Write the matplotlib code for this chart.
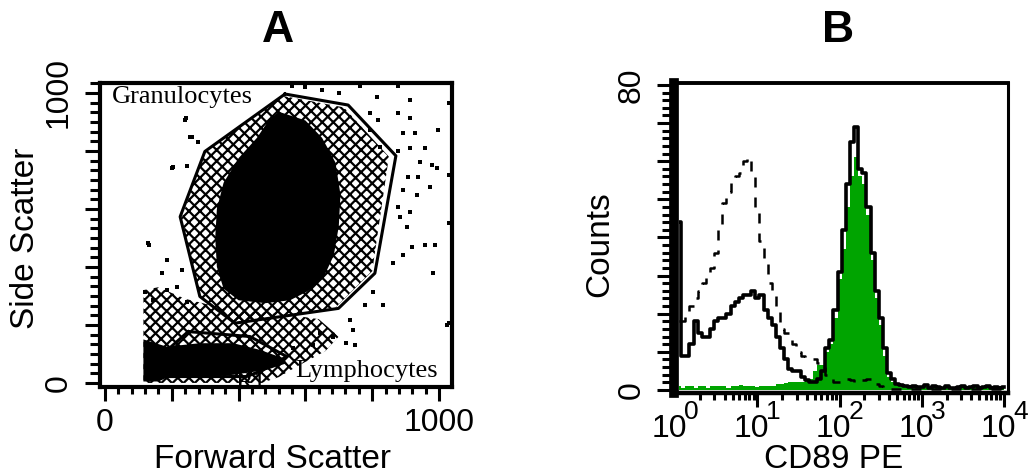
import numpy as np
import matplotlib
matplotlib.use('Agg')
import matplotlib.pyplot as plt
from matplotlib.ticker import MultipleLocator, FixedLocator, LogLocator, NullFormatter

W, H = 1031, 476
SANS = ['Liberation Sans Narrow', 'Liberation Sans', 'DejaVu Sans']
SERIF = ['Liberation Serif', 'DejaVu Serif']
plt.rcParams['font.family'] = SANS
plt.rcParams['hatch.linewidth'] = 1.6

# ---------------- Panel A data (forward / side scatter dot plot) ----------------
# dense granulocyte core
gran_core_x = [520, 600, 650, 690, 705, 700, 685, 655, 605, 554, 480, 400, 355, 335, 330, 335, 355, 400, 455, 490]
gran_core_y = [935, 905, 845, 760, 650, 540, 440, 365, 315, 285, 275, 285, 325, 400, 500, 600, 690, 775, 845, 905]
# speckled area around the granulocytes
gran_fringe_x = [530, 715, 850, 800, 690, 560, 390, 285, 230, 300]
gran_fringe_y = [990, 950, 780, 385, 260, 230, 210, 295, 570, 800]
# dense lymphocyte cluster
lym_core_x = [115, 115, 185, 284, 384, 464, 534, 544, 484, 384, 284, 185, 160]
lym_core_y = [5, 150, 125, 137, 137, 114, 85, 68, 45, 28, 22, 18, 5]
# speckled area around lymphocytes / debris
lym_fringe_x = [115, 115, 160, 240, 380, 520, 640, 700, 660, 580, 520, 470]
lym_fringe_y = [0, 320, 330, 290, 250, 240, 220, 160, 110, 60, 20, 0]
# isolated events
dots_x = [763, 878, 813, 913, 793, 878, 818, 913, 793, 893, 928, 998, 823, 878, 913, 958, 943, 978, 993,
          908, 938, 973, 893, 933, 878, 913, 883, 903, 243, 254, 279, 200, 246, 133, 185, 170, 230, 120,
          145, 185, 215, 245, 918, 958, 988, 893, 863, 983, 803, 833, 778, 733, 743, 683, 723, 748, 623,
          643, 603, 563, 1023, 240, 260, 205, 130, 600, 650, 700, 560, 1030, 1030, 1030, 1030]
dots_y = [1022, 1022, 987, 976, 930, 930, 907, 913, 872, 861, 861, 872, 815, 798, 809, 809, 763, 752, 740,
          711, 711, 677, 665, 648, 608, 591, 573, 539, 913, 847, 832, 740, 748, 476, 424, 378, 390, 315,
          286, 321, 332, 280, 470, 476, 476, 441, 413, 378, 315, 269, 269, 217, 183, 160, 137, 130, 130,
          171, 114, 120, 200, 907, 849, 746, 482, 1020, 1010, 1000, 1025, 965, 717, 552, 207]
# gates
gate_gran_x = [539, 728, 871, 808, 699, 389, 284, 225, 299, 539]
gate_gran_y = [996, 958, 783, 378, 257, 206, 298, 573, 798, 996]
gate_lym_x = [249, 434, 544, 474, 424, 175, 165, 249]
gate_lym_y = [177, 160, 91, 45, 22, 22, 91, 177]

# ---------------- Panel B data (CD89 PE histograms) ----------------
log_ch = [0.05, 0.10, 0.15, 0.20, 0.25, 0.30, 0.35, 0.40, 0.45, 0.50,
          0.55, 0.60, 0.65, 0.70, 0.75, 0.80, 0.85, 0.90, 0.95, 1.00,
          1.05, 1.10, 1.15, 1.20, 1.25, 1.30, 1.35, 1.40, 1.45, 1.50,
          1.55, 1.60, 1.65, 1.70, 1.75, 1.80, 1.85, 1.90, 1.95, 2.00,
          2.05, 2.10, 2.15, 2.20, 2.25, 2.30, 2.35, 2.40, 2.45, 2.50,
          2.55, 2.60, 2.65, 2.70, 2.75, 2.80, 2.85, 2.90, 2.95, 3.00,
          3.05, 3.10, 3.15, 3.20, 3.25, 3.30, 3.35, 3.40, 3.45, 3.50,
          3.55, 3.60, 3.65, 3.70, 3.75, 3.80, 3.85, 3.90, 3.95, 4.00]
solid_counts = [44, 9, 9, 12, 18, 15, 14, 14, 16, 18,
                19, 19, 20, 22, 23, 24, 25, 25, 26, 24,
                25, 21, 19, 17, 14, 11, 8, 5.5, 5, 5,
                3.5, 2.5, 2, 2, 3, 5, 11, 13, 21, 31,
                42, 54, 65, 69, 58, 57, 48, 36, 26, 19,
                11, 4.5, 3, 1.5, 1.2, 1, 0.8, 1, 0.8, 0.8,
                1.2, 0.6, 1, 0.8, 0.6, 1, 0.6, 0.6, 0.8, 1,
                0.6, 0.8, 1, 0.6, 0.8, 1, 0.6, 0.8, 0.6, 0.8]
green_counts = [1, 0.5, 1, 1, 0.5, 1, 1, 0.5, 1, 1,
                1, 1, 0.5, 1, 1, 1.2, 1, 1, 1, 0.8,
                1, 1, 1, 1, 1.5, 1.5, 1.8, 2, 2, 2,
                2, 2.5, 3, 5, 6.5, 6.5, 10, 12, 19, 29,
                37, 48, 56, 61, 56, 54, 46, 34, 24, 17,
                9, 3.5, 2.2, 1.2, 1, 0.8, 0.5, 0.8, 0.5, 0.5,
                0.8, 0.4, 0.8, 0.5, 0.4, 0.8, 0.4, 0.4, 0.5, 0.8,
                0.4, 0.5, 0.8, 0.4, 0.5, 0.8, 0.4, 0.5, 0.4, 0.5]
dashed_counts = [18, 18, 20, 22, 24, 26, 28, 30, 32, 36,
                 42, 49, 52, 55, 56, 57, 60, 61, 57, 47,
                 39, 33, 28, 26, 21, 16, 15, 15, 12, 10,
                 9, 8, 8, 8, 7, 6, 4, 3, 2, 2,
                 2.5, 3, 2.5, 2, 2, 2.5, 3, 2, 1.5, 1,
                 0.8, 0.5, 0.3, 0.3, 0.3, 0.3, 0.3, 0.3, 0.3, 0.3,
                 0.3, 0.3, 0.3, 0.3, 0.3, 0.3, 0.3, 0.3, 0.3, 0.3,
                 0.3, 0.3, 0.3, 0.3, 0.3, 0.3, 0.3, 0.3, 0.3, 0.3]
decades = [0, 1, 2, 3, 4]

fig = plt.figure(figsize=(W / 100, H / 100), dpi=100)

def px(x, y):
    return x / W, 1 - y / H

# ================= Panel A =================
axA = fig.add_axes([100 / W, 1 - 387 / H, 352 / W, 304 / H])
axA.set_xlim(-15, 1039)
axA.set_ylim(-14, 1034)
axA.fill(gran_fringe_x, gran_fringe_y, facecolor='none', edgecolor='black', hatch='xxx', lw=0)
axA.fill(lym_fringe_x, lym_fringe_y, facecolor='none', edgecolor='black', hatch='xxx', lw=0)
axA.fill(gran_core_x, gran_core_y, color='black', lw=0)
axA.fill(lym_core_x, lym_core_y, color='black', lw=0)
axA.scatter(dots_x, dots_y, marker='s', s=6, c='black', lw=0)
axA.plot(gate_gran_x, gate_gran_y, color='black', lw=2.2)
axA.plot(gate_lym_x, gate_lym_y, color='black', lw=2.2)
axA.text(21, 965, 'Granulocytes', family=SERIF, fontsize=19, va='baseline')
axA.text(569, 21, 'Lymphocytes', family=SERIF, fontsize=19, va='baseline')
axA.text(390, 36, 'R1', family=SERIF, fontsize=19, va='top', clip_on=True)

axA.xaxis.set_major_locator(FixedLocator([0, 200, 400, 600, 800, 1000]))
axA.xaxis.set_minor_locator(MultipleLocator(40))
axA.set_xticklabels(['0', '', '', '', '', '1000'])
axA.yaxis.set_major_locator(FixedLocator([0, 200, 400, 600, 800, 1000]))
axA.yaxis.set_minor_locator(MultipleLocator(1000 / 30))
axA.set_yticklabels(['0', '', '', '', '', '1000'], rotation=90, va='center')
axA.tick_params(axis='x', which='major', length=10, width=2.2, labelsize=23, pad=5)
axA.tick_params(axis='x', which='minor', length=5, width=2.2)
axA.tick_params(axis='y', which='major', length=11, width=2.2, labelsize=23, pad=8)
axA.tick_params(axis='y', which='minor', length=7, width=2.2)
for s in axA.spines.values():
    s.set_linewidth(3)

# ================= Panel B =================
axB = fig.add_axes([679 / W, 1 - 393 / H, 329 / W, 310 / H])
axB.spines['left'].set_position(('outward', 3.5))
axB.spines['left'].set_linewidth(7)
axB.spines['bottom'].set_linewidth(3.2)
axB.spines['top'].set_linewidth(2.8)
axB.spines['right'].set_linewidth(2.2)
axB.set_xscale('log')
axB.set_xlim(10 ** 0.049, 10 ** 4.046)
axB.set_ylim(-0.8, 80.5)
ch = [10 ** v for v in log_ch]
axB.fill_between(ch, green_counts, step='mid', color='#00a400', lw=0)
axB.step(ch, dashed_counts, where='mid', color='black', lw=1.8, dashes=(4, 4))
axB.step(ch, solid_counts, where='mid', color='black', lw=2.6)

axB.xaxis.set_major_locator(LogLocator(base=10, numticks=10))
axB.xaxis.set_minor_locator(LogLocator(base=10, subs=[2, 3, 4, 5, 6, 7, 8, 9], numticks=20))
axB.xaxis.set_major_formatter(NullFormatter())
axB.xaxis.set_minor_formatter(NullFormatter())
axB.tick_params(axis='x', which='major', length=10, width=2.2)
axB.tick_params(axis='x', which='minor', length=5, width=2.2)
for d in decades:
    axB.annotate('10', xy=(10 ** d, 0), xycoords=('data', 'axes fraction'), xytext=(-6, -36),
                 textcoords='offset pixels', ha='center', va='center', fontsize=23, annotation_clip=False)
    axB.annotate(str(d), xy=(10 ** d, 0), xycoords=('data', 'axes fraction'), xytext=(16, -19),
                 textcoords='offset pixels', ha='center', va='center', fontsize=19, annotation_clip=False)

axB.yaxis.set_major_locator(FixedLocator(list(range(0, 81, 10))))
axB.yaxis.set_minor_locator(MultipleLocator(2))
axB.set_yticklabels(['0', '', '', '', '', '', '', '', '80'], rotation=90, va='center')
axB.tick_params(axis='y', which='major', length=12, width=2.2, labelsize=23, pad=8)
axB.tick_params(axis='y', which='minor', length=9, width=2.2)

# ================= labels and titles =================
fig.text(*px(278, 30), 'A', fontsize=32, fontweight='bold', family=['Liberation Sans', 'DejaVu Sans'],
         ha='center', va='center')
fig.text(*px(838, 30), 'B', fontsize=32, fontweight='bold', family=['Liberation Sans', 'DejaVu Sans'],
         ha='center', va='center')
fig.text(*px(272, 459), 'Forward Scatter', fontsize=24, ha='center', va='center')
fig.text(*px(26, 238), 'Side Scatter', fontsize=24, rotation=90, ha='center', va='center')
fig.text(*px(834, 459), 'CD89 PE', fontsize=24, ha='center', va='center')
fig.text(*px(600, 244), 'Counts', fontsize=24, rotation=90, ha='center', va='center')

fig.savefig('out.png', dpi=100)
